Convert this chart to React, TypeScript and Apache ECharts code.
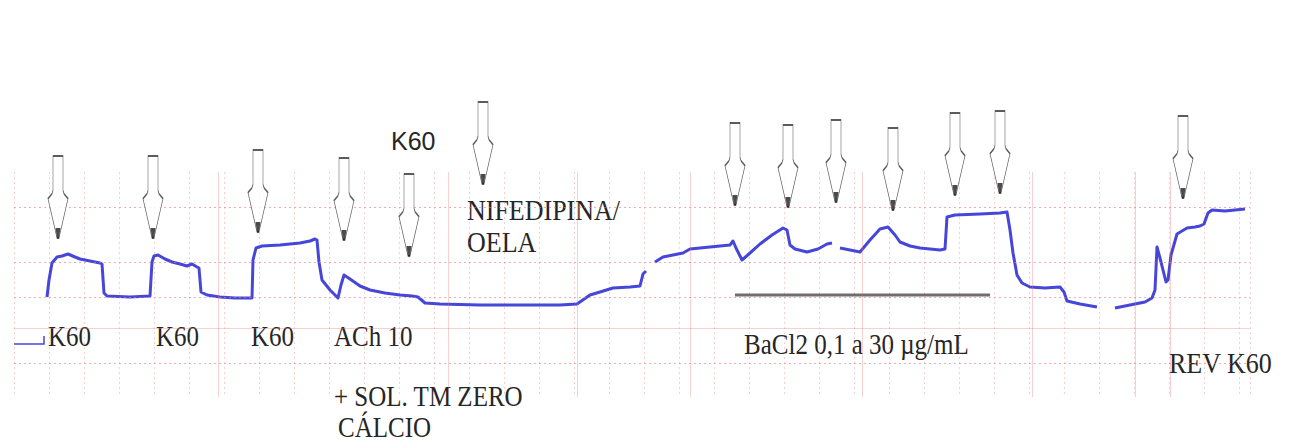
import React, { useEffect, useRef } from "react";
import * as echarts from "echarts";

// Trace: time (arbitrary units, 1 unit = 10 px on the chart) and tension (arbitrary units)
const traceT = [
  3.3, 3.5, 3.8, 4.3, 4.8, 5.4, 6.1, 6.6, 7.6, 8.6, 8.8, 9.0, 9.3, 11.6, 13.6,
  13.8, 14.0, 14.4, 15.1, 15.8, 16.6, 17.3, 17.8, 18.3, 18.5, 18.7, 19.3, 20.6, 22.1, 23.8,
  23.9, 24.2, 24.8, 26.6, 28.6, 29.6, 30.1, 30.3, 30.5, 30.8, 31.6, 32.4, 32.7, 33.0, 33.6,
  34.6, 35.6, 37.1, 38.6, 39.8, 40.4, 41.1, 42.6, 46.6, 50.6, 54.6, 56.3, 57.6, 58.6, 59.9,
  61.6, 62.6, 62.9, 63.2, 63.6,
  64.1, 64.9, 66.9, 67.6, 69.6, 71.6, 71.9, 72.2, 72.8, 73.6, 74.6, 75.8, 76.9, 77.3, 77.6,
  78.1, 79.3, 80.4, 81.3, 81.8, 82.2,
  82.6, 83.6, 84.6, 85.6, 86.6, 87.4, 88.1, 88.6, 89.6, 90.6, 92.6, 93.1, 93.3, 94.1, 96.6,
  98.6, 99.3, 99.6, 99.9, 100.3, 100.8, 101.6, 103.1, 104.6, 105.0, 105.3, 106.6, 108.3, 109.2,
  110.1, 111.6, 113.1, 113.8, 114.1, 114.3, 114.6, 114.9, 115.2, 115.4, 115.7, 116.3, 117.3, 118.1,
  118.6, 119.0, 119.4, 119.8, 121.1, 122.1, 123.1,
];
const traceV = [
  0, 0.34, 0.68, 0.8, 0.82, 0.86, 0.8, 0.76, 0.72, 0.68, 0.66, 0.08, 0.02, 0, 0.02,
  0.7, 0.82, 0.84, 0.76, 0.7, 0.66, 0.62, 0.66, 0.6, 0.58, 0.1, 0.04, 0, -0.02, -0.02,
  0.74, 0.98, 1.02, 1.04, 1.08, 1.12, 1.16, 1.14, 0.7, 0.34, 0.14, -0.02, 0.24, 0.44, 0.36,
  0.22, 0.14, 0.08, 0.04, 0.02, 0, -0.12, -0.14, -0.16, -0.16, -0.16, -0.14, 0.04, 0.1, 0.18,
  0.2, 0.22, 0.46, 0.52, null,
  0.7, 0.8, 0.88, 0.96, 1.0, 1.04, 1.12, 0.98, 0.74, 0.88, 1.06, 1.24, 1.38, 1.34, 1.04,
  0.96, 0.9, 0.96, 1.06, 1.08, null,
  0.98, 0.94, 0.9, 1.14, 1.36, 1.4, 1.24, 1.1, 1.02, 0.98, 0.94, 0.96, 1.6, 1.64, 1.66,
  1.68, 1.7, 1.34, 0.88, 0.44, 0.28, 0.2, 0.18, 0.2, 0.1, -0.08, -0.14, -0.2, null,
  -0.22, -0.16, -0.1, -0.02, 0.14, 1.0, 0.78, 0.54, 0.3, 0.34, 0.84, 1.26, 1.38, 1.4,
  1.42, 1.46, 1.68, 1.74, 1.72, 1.74, 1.76,
];

// Stimulus arrows (tip position)
const arrowT = [4.4, 13.9, 24.4, 33.0, 39.5, 46.9, 72.1, 77.4, 82.2, 87.9, 94.1, 98.6, 116.9];
const arrowV = [1.18, 1.18, 1.3, 1.14, 0.82, 2.26, 1.84, 1.8, 1.9, 1.74, 2.04, 2.08, 1.98];

// BaCl2 bar
const barT = [72.1, 97.6];
const barV = [0.04, 0.04];

// Chart-paper lines
const paperDottedY = [1.8, 0.7, 0, -1.32];
const paperSolidY = [-0.62];
const paperSolidX = [20.4, 43.4, 56.3, 67.6, 84.8, 101.8, 112.1, 115.6];

const SERIF = "'Liberation Serif', 'Times New Roman', serif";
const SANS = "'Liberation Sans', Arial, sans-serif";

export default function App() {
  const ref = useRef<HTMLDivElement>(null);

  useEffect(() => {
    document.body.style.margin = "0";
    const chart = echarts.init(ref.current!, null, { renderer: "svg" });
    const trace = traceT.map((t, i) => [t, traceV[i] === null ? "-" : traceV[i]]);
    const arrows = arrowT.map((t, i) => [t, arrowV[i]]);
    const bar = barT.map((t, i) => [t, barV[i]]);

    const pinkDot = { color: "rgba(232,120,120,0.6)", type: [2, 3] as any, width: 1 };
    const pinkSolid = { color: "rgba(232,120,120,0.35)", type: "solid" as any, width: 1 };

    const markLineData: any[] = [
      ...paperDottedY.map((y) => ({ yAxis: y, lineStyle: pinkDot })),
      ...paperSolidY.map((y) => ({ yAxis: y, lineStyle: pinkSolid })),
      ...paperSolidX.map((x) => ({ xAxis: x, lineStyle: pinkSolid })),
    ];

    const txt = (text: string, x: number, y: number, size: number, font = SERIF, sy = 1.15) => ({
      type: "text",
      x,
      y,
      scaleY: sy,
      style: {
        text,
        fill: "#262626",
        font: `${size}px ${font}`,
        textVerticalAlign: "middle",
      },
    });

    chart.setOption({
      animation: false,
      backgroundColor: "#ffffff",
      grid: { left: 14, right: 44, top: 172, bottom: 47 },
      xAxis: {
        type: "value",
        min: 0,
        max: 123.6,
        interval: 3.5,
        axisLine: { show: false },
        axisTick: { show: false },
        axisLabel: { show: false },
        splitLine: { show: true, lineStyle: { color: "rgba(232,120,120,0.35)", type: [2, 3], width: 1 } },
      },
      yAxis: {
        type: "value",
        min: -2,
        max: 2.5,
        axisLine: { show: false },
        axisTick: { show: false },
        axisLabel: { show: false },
        splitLine: { show: false },
      },
      series: [
        {
          type: "line",
          name: "paper",
          data: [],
          markLine: {
            silent: true,
            symbol: "none",
            label: { show: false },
            data: markLineData,
          },
          z: 1,
        },
        {
          type: "line",
          name: "BaCl2",
          data: bar,
          showSymbol: false,
          lineStyle: { color: "#6e6e6e", width: 3 },
          z: 3,
        },
        {
          type: "line",
          name: "trace",
          data: trace,
          showSymbol: false,
          connectNulls: false,
          lineStyle: { color: "#4646d8", width: 3, join: "round" },
          z: 4,
        },
        {
          type: "scatter",
          name: "arrows",
          data: arrows,
          clip: false,
          symbol:
            "path://M5,0 L15,0 L15,42 L16,46 L20,52 L11,100 L9,100 L0,52 L4,46 L5,42 Z",
          symbolSize: [20, 82],
          symbolOffset: [0, "-50%"],
          itemStyle: { color: "#ffffff", borderColor: "#333333", borderWidth: 1.1 },
          z: 5,
        },
        {
          type: "scatter",
          name: "tips",
          data: arrows,
          clip: false,
          symbol: "path://M0,0 L10,0 L7,20 L3,20 Z",
          symbolSize: [5, 10],
          symbolOffset: [0, -5],
          itemStyle: { color: "#1e1e1e" },
          z: 6,
        },
      ],
      graphic: [
        {
          type: "polyline",
          shape: { points: [[14, 344], [44, 344], [44, 336]] },
          style: { stroke: "#4646d8", lineWidth: 1.5, fill: null },
        },
        txt("K60", 48, 336, 25),
        txt("K60", 156, 336, 25),
        txt("K60", 251, 336, 25),
        txt("ACh 10", 334, 336, 25),
        txt("+ SOL. TM ZERO", 334, 396, 25),
        txt("CÁLCIO", 338, 427, 25),
        txt("NIFEDIPINA/", 467, 210, 26),
        txt("OELA", 467, 242, 26),
        txt("K60", 391, 141, 25, SANS, 1),
        txt("BaCl2 0,1 a 30 µg/mL", 744, 344, 25),
        txt("REV K60", 1169, 363, 26),
      ],
    });
    return () => chart.dispose();
  }, []);

  return (
    <div
      ref={ref}
      style={{ position: "fixed", left: 0, top: 0, width: 1294, height: 444, background: "#fff" }}
    />
  );
}
